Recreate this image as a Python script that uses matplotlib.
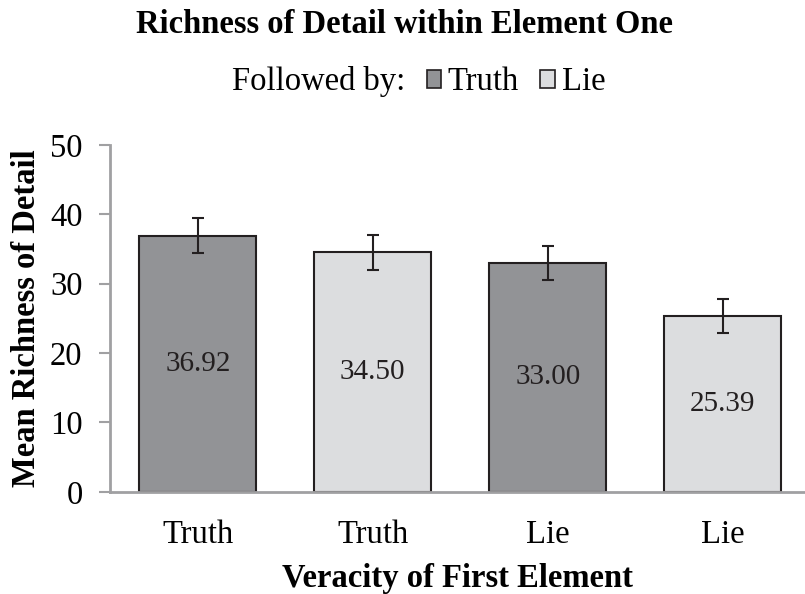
import matplotlib
matplotlib.use("Agg")
import matplotlib.pyplot as plt
from matplotlib.patches import Patch

# data
categories = ["Truth", "Truth", "Lie", "Lie"]
followed_by = ["Truth", "Lie", "Truth", "Lie"]
means = [36.92, 34.50, 33.00, 25.39]
errors = [2.5, 2.5, 2.5, 2.45]
yticks = [0, 10, 20, 30, 40, 50]

colours = {"Truth": "#929396", "Lie": "#dcdddf"}
edge = "#231f20"
spine = "#a0a0a2"

plt.rcParams["font.family"] = ["Liberation Serif", "DejaVu Serif"]

fig = plt.figure(figsize = (8.05, 5.94), dpi = 100)
ax = fig.add_axes([0.137, 0.172, 0.863, 0.584])

x = range(len(means))
ax.bar(x, means, width = 0.67, color = [colours[f] for f in followed_by],
       edgecolor = edge, linewidth = 1.5, zorder = 2)
ax.errorbar(x, means, yerr = errors, fmt = "none", ecolor = edge,
            elinewidth = 1.5, capsize = 4.5, capthick = 1.5, zorder = 3)

for xi, m in zip(x, means):
    ax.text(xi, m / 2, f"{m:.2f}", ha = "center", va = "center",
            fontsize = 21, color = edge)

ax.set_xlim(-0.5, 3.47)
ax.set_ylim(0, 50)
ax.set_yticks(yticks)
ax.set_xticks(list(x))
ax.set_xticklabels(categories, fontsize = 23.5)
ax.tick_params(axis = "y", labelsize = 23.5, length = 8, width = 1.5,
               color = spine, direction = "out", pad = 12)
ax.tick_params(axis = "x", length = 0, pad = 20)

for s in ["top", "right"]:
    ax.spines[s].set_visible(False)
for s in ["left", "bottom"]:
    ax.spines[s].set_color(spine)
    ax.spines[s].set_linewidth(2)

ax.set_ylabel("Mean Richness of Detail", fontsize = 23.5, fontweight = "bold", labelpad = 6)
ax.set_xlabel("Veracity of First Element", fontsize = 23.5, fontweight = "bold", labelpad = 9)

fig.text(0.502, 0.958, "Richness of Detail within Element One", ha = "center",
         va = "center", fontsize = 23.5, fontweight = "bold")

handles = [Patch(facecolor = "none", edgecolor = "none"),
           Patch(facecolor = colours["Truth"], edgecolor = edge, linewidth = 1.2),
           Patch(facecolor = colours["Lie"], edgecolor = edge, linewidth = 1.2)]
labels = ["Followed by:", "Truth", "Lie"]
fig.legend(handles, labels, loc = "center", bbox_to_anchor = (0.507, 0.862),
           ncol = 3, frameon = False, fontsize = 23.5, handlelength = 0.45,
           handleheight = 0.45, handletextpad = 0.2, columnspacing = 0.65)

fig.savefig("out.png", dpi = 100)
